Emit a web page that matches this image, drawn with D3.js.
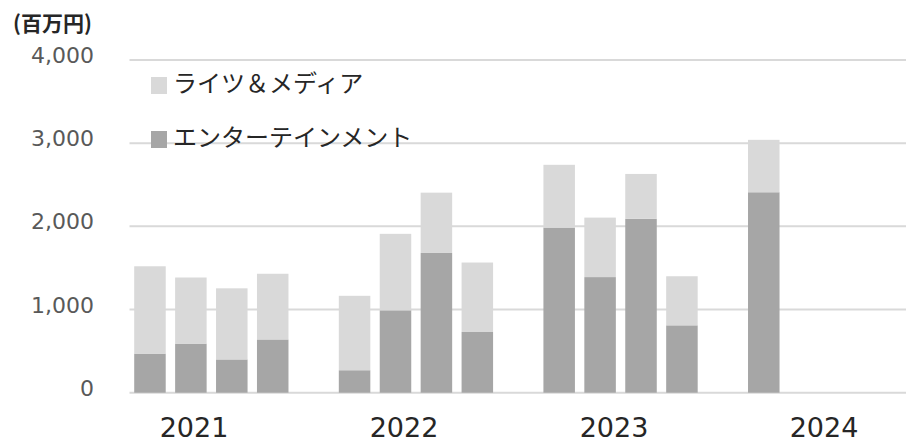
<!DOCTYPE html>
<html>
<head>
<meta charset="utf-8">
<script src="https://cdn.jsdelivr.net/npm/d3@7"></script>
<style>
  html, body { margin: 0; padding: 0; background: #ffffff; }
  svg { display: block; }
</style>
</head>
<body>
<svg id="chart" width="906" height="442"></svg>
<script>
// ---- data ----
const years = ["2021", "2022", "2023", "2024"];
const quarters = ["Q1", "Q2", "Q3", "Q4"];
const seriesNames = ["ライツ＆メディア", "エンターテインメント"];
// values per quarter, in order 2021Q1..2024Q1 (百万円)
const entertainment = [470, 590, 400, 640, 270, 990, 1680, 730, 1985, 1390, 2090, 810, 2410];
const rightsMedia   = [1050, 795, 855, 790, 895, 920, 725, 835, 755, 715, 540, 590, 630];
const yTicks = [0, 1000, 2000, 3000, 4000];
const unitLabel = "(百万円)";

(function () {
// ---- build slots: 4 quarters per year, one empty gap slot between years ----
const slots = [];
let vi = 0;
years.forEach((yr, yi) => {
  quarters.forEach(q => {
    const has = vi < entertainment.length && !(yr === "2024" && q !== "Q1");
    slots.push({ key: yr + q, year: yr, ent: has ? entertainment[vi] : null, rm: has ? rightsMedia[vi] : null });
    if (has) vi++;
  });
  if (yi < years.length - 1) slots.push({ key: "gap" + yi, year: null, ent: null, rm: null });
});

const svg = d3.select("#chart");
const pLeft = 129.5, pRight = 907, pTop = 60, pBottom = 392.7;

const x = d3.scaleBand().domain(slots.map(d => d.key)).range([pLeft, pRight]).paddingInner(0.23).paddingOuter(0.115);
const y = d3.scaleLinear().domain([0, 4000]).range([pBottom, pTop]);

const colLight = "#d9d9d9", colDark = "#a6a6a6";

// gridlines
svg.append("g").selectAll("line").data(yTicks).join("line")
  .attr("x1", pLeft).attr("x2", 906)
  .attr("y1", d => y(d)).attr("y2", d => y(d))
  .attr("stroke", "#d9d9d9").attr("stroke-width", 2);

// y tick labels
svg.append("g").selectAll("text").data(yTicks).join("text")
  .attr("x", 94).attr("y", d => y(d) - 3)
  .attr("text-anchor", "end").attr("dominant-baseline", "middle")
  .attr("font-family", "DejaVu Sans, Verdana, sans-serif").attr("font-size", 22)
  .attr("fill", "#595959")
  .text(d => d3.format(",")(d));

// stacked bars
const filled = slots.filter(d => d.ent !== null);
const stackData = filled.map(d => ({ key: d.key, ent: d.ent, rm: d.rm }));
const stack = d3.stack().keys(["ent", "rm"])(stackData);
const colors = { ent: colDark, rm: colLight };
svg.append("g").selectAll("g").data(stack).join("g")
  .attr("fill", s => colors[s.key])
  .selectAll("rect").data(s => s).join("rect")
  .attr("x", d => x(d.data.key))
  .attr("width", x.bandwidth())
  .attr("y", d => y(d[1]))
  .attr("height", d => y(d[0]) - y(d[1]));

// year labels
const yearX = d3.scalePoint().domain(years).range([194, 824]);
svg.append("g").selectAll("text").data(years).join("text")
  .attr("x", d => yearX(d)).attr("y", 437)
  .attr("text-anchor", "middle")
  .attr("font-family", "DejaVu Sans, Verdana, sans-serif").attr("font-size", 27)
  .attr("fill", "#262626")
  .text(d => d);

// unit label
svg.append("text")
  .attr("x", 13).attr("y", 31)
  .attr("font-family", "Noto Sans CJK JP, sans-serif").attr("font-size", 21)
  .attr("font-weight", 700)
  .attr("fill", "#262626")
  .text(unitLabel);

// legend
const legend = [
  { name: seriesNames[0], color: colLight, cy: 85 },
  { name: seriesNames[1], color: colDark, cy: 139 }
];
const lg = svg.append("g").selectAll("g").data(legend).join("g");
lg.append("rect").attr("x", 151).attr("y", d => d.cy - 8).attr("width", 16).attr("height", 17).attr("fill", d => d.color);
lg.append("text")
  .attr("x", 173).attr("y", d => d.cy)
  .attr("dominant-baseline", "middle")
  .attr("font-family", "Noto Sans CJK JP, sans-serif").attr("font-size", 24)
  .attr("fill", "#262626")
  .text(d => d.name);
})();
</script>
</body>
</html>
